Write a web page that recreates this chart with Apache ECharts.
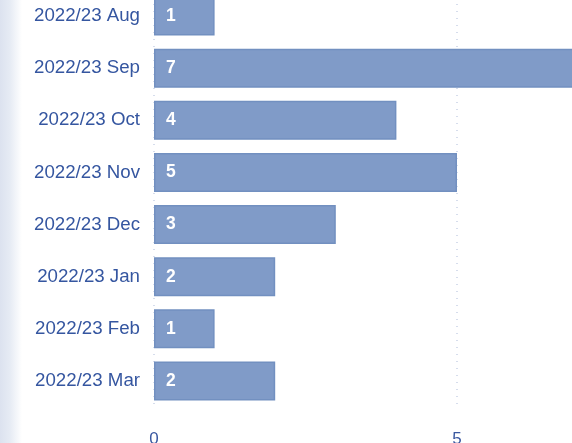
<!DOCTYPE html>
<html>
<head>
<meta charset="utf-8">
<script src="https://cdn.jsdelivr.net/npm/echarts@6/dist/echarts.min.js"></script>
<style>
html,body{margin:0;padding:0;background:#fff;overflow:hidden;width:572px;height:443px;}
#wrap{position:relative;width:572px;height:443px;overflow:hidden;}
#chart{position:absolute;left:0;top:-40px;width:800px;height:483px;}
</style>
</head>
<body>
<div id="wrap"><div id="chart"></div></div>
<script>
const categories = ['2022/23 Aug','2022/23 Sep','2022/23 Oct','2022/23 Nov','2022/23 Dec','2022/23 Jan','2022/23 Feb','2022/23 Mar'];
const values = [1, 7, 4, 5, 3, 2, 1, 2];
const xTicks = [0, 5, 10];

const chart = echarts.init(document.getElementById('chart'), null, {renderer: 'canvas'});
chart.setOption({
  animation: false,
  backgroundColor: '#ffffff',
  graphic: [{
    type: 'rect',
    left: 0, top: 0,
    shape: {width: 22, height: 483},
    style: {
      fill: new echarts.graphic.LinearGradient(0, 0, 1, 0, [
        {offset: 0, color: '#dce2ef'},
        {offset: 0.45, color: '#e6ebf4'},
        {offset: 1, color: '#ffffff'}
      ])
    },
    z: -1
  }],
  grid: {left: 154, right: 40, top: 30, bottom: 36, containLabel: false, outerBoundsMode: 'none'},
  xAxis: {
    type: 'value',
    min: xTicks[0], max: xTicks[xTicks.length - 1], interval: 5,
    axisLine: {show: false},
    axisTick: {show: false},
    axisLabel: {color: '#3a58a0', fontSize: 17, fontFamily: 'Liberation Sans', margin: 24},
    splitLine: {show: true, lineStyle: {type: [1, 6], color: '#c9d2e6', width: 1.5}}
  },
  yAxis: {
    type: 'category',
    inverse: true,
    data: categories,
    axisLine: {show: false},
    axisTick: {show: false},
    axisLabel: {color: '#3556a0', fontSize: 18.7, fontFamily: 'Liberation Sans', margin: 14}
  },
  series: [{
    type: 'bar',
    data: values,
    barWidth: 39,
    itemStyle: {color: '#809bc8', borderColor: '#7290c0', borderWidth: 1.5},
    label: {
      show: true,
      position: 'insideLeft',
      distance: 12,
      color: '#ffffff',
      fontSize: 17.5,
      fontWeight: 'bold',
      fontFamily: 'Liberation Sans'
    }
  }]
});
</script>
</body>
</html>
